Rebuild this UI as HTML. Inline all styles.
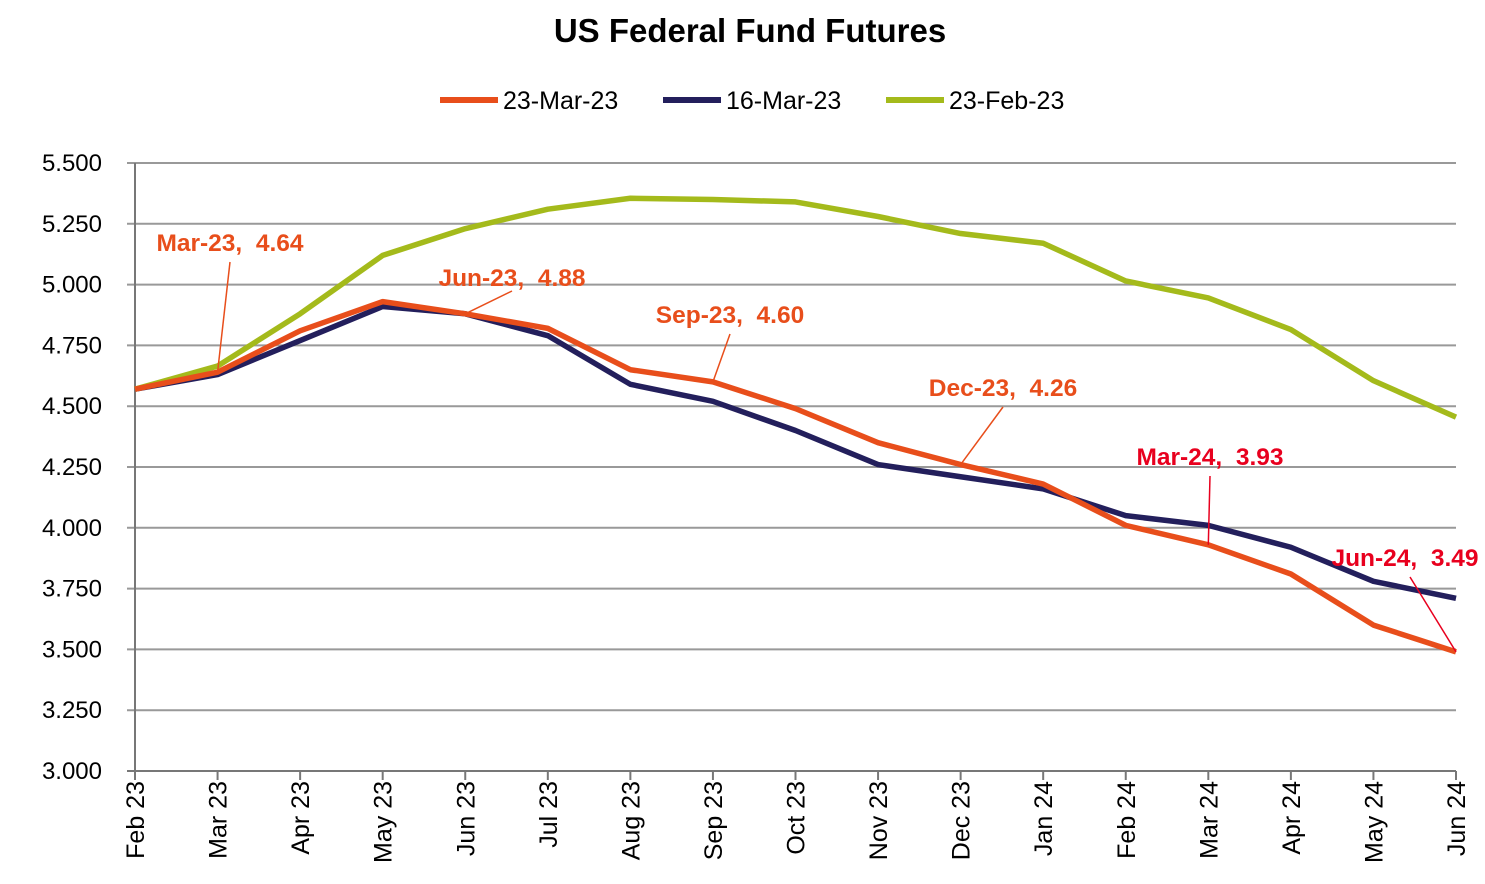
<!DOCTYPE html>
<html><head><meta charset="utf-8"><style>
body{margin:0;background:#fff;}
svg{display:block;font-family:"Liberation Sans",sans-serif;}
</style></head><body>
<svg id="chart" width="1485" height="884">
<text x="750" y="42" text-anchor="middle" font-size="33" font-weight="bold" fill="#000">US Federal Fund Futures</text>
<g id="legend"></g>
<g id="grid"></g>
<g id="axes"></g>
<g id="series"></g>
<g id="notes"></g>
</svg>
<script>
const categories=["Feb 23","Mar 23","Apr 23","May 23","Jun 23","Jul 23","Aug 23","Sep 23","Oct 23","Nov 23","Dec 23","Jan 24","Feb 24","Mar 24","Apr 24","May 24","Jun 24"];
const mar23=[4.57,4.64,4.81,4.93,4.88,4.82,4.65,4.60,4.49,4.35,4.26,4.18,4.01,3.93,3.81,3.60,3.49];
const mar16=[4.57,4.63,4.77,4.91,4.88,4.79,4.59,4.52,4.40,4.26,4.21,4.16,4.05,4.01,3.92,3.78,3.71];
const feb23=[4.57,4.665,4.88,5.12,5.23,5.31,5.355,5.35,5.34,5.28,5.21,5.17,5.015,4.945,4.815,4.605,4.455];
const yTicks=[3.0,3.25,3.5,3.75,4.0,4.25,4.5,4.75,5.0,5.25,5.5];
const seriesNames=["23-Mar-23","16-Mar-23","23-Feb-23"];
const annIdx=[1,4,7,10,13,16];
const annText=["Mar-23,\u00a0 4.64","Jun-23,\u00a0 4.88","Sep-23,\u00a0 4.60","Dec-23,\u00a0 4.26","Mar-24,\u00a0 3.93","Jun-24,\u00a0 3.49"];
const NS="http://www.w3.org/2000/svg";
const L=135,R=1456,T=163,B=771;
const x=i=>L+i*(R-L)/(categories.length-1);
const y=v=>B-(v-3)/(5.5-3)*(B-T);
function mk(tag,attrs,parent,txt){const e=document.createElementNS(NS,tag);for(const k in attrs)e.setAttribute(k,attrs[k]);if(txt!==undefined)e.textContent=txt;parent.appendChild(e);return e;}
const grid=document.getElementById('grid'),axes=document.getElementById('axes'),ser=document.getElementById('series'),notes=document.getElementById('notes'),leg=document.getElementById('legend');
yTicks.forEach(v=>{
 const g=mk('line',{x1:L-8,x2:R,y1:y(v),y2:y(v),stroke:v===3?'#777':'#999','stroke-width':2},grid);
 
 
 const t=mk('text',{x:102,y:y(v)+8,'text-anchor':'end','font-size':24,fill:'#000'},axes,v.toFixed(3));
 
 
});
mk('line',{x1:L,x2:L,y1:T,y2:B,stroke:'#777','stroke-width':2},axes);
categories.forEach((c,i)=>{
 mk('line',{x1:x(i),x2:x(i),y1:B,y2:B+9,stroke:'#777','stroke-width':2},axes);
 const t=mk('text',{transform:`translate(${x(i)+9},${B+10}) rotate(-90)`,'text-anchor':'end','font-size':25,fill:'#000'},axes,c);
 
 
});
const colors=["#E84E1B","#231F5C","#A4BA1B"];
[mar16,feb23,mar23].forEach((d,k)=>{
 const ci=[1,2,0][k];
 const p=mk('polyline',{points:d.map((v,i)=>x(i)+','+y(v)).join(' '),fill:'none',stroke:colors[ci],'stroke-width':5.5,'stroke-linejoin':'round'},ser);
 
 
});
const legX=[440,663,886];
seriesNames.forEach((n,k)=>{
 mk('line',{x1:legX[k],x2:legX[k]+58,y1:100,y2:100,stroke:colors[k],'stroke-width':6},leg);
 const t=mk('text',{x:legX[k]+63,y:109,'font-size':25,fill:'#000'},leg,n);
 
 
});
const labPos=[[230,242],[512,277],[730,314],[1003,387],[1210,456],[1405,557]];
annIdx.forEach((i,k)=>{
 const col=k>=4?'#E8001E':'#E84E1B';
 const [lx,ly]=labPos[k];
 mk('line',{x1:lx+(k==5?5:0),y1:ly+(k==1?14:20),x2:x(i),y2:y(mar23[i]),stroke:col,'stroke-width':1.5},notes);
 const t=mk('text',{x:lx,y:ly+9,'text-anchor':'middle','font-size':24.5,'font-weight':'bold',fill:col},notes,annText[k]);
 
 
});
</script>
</body></html>
